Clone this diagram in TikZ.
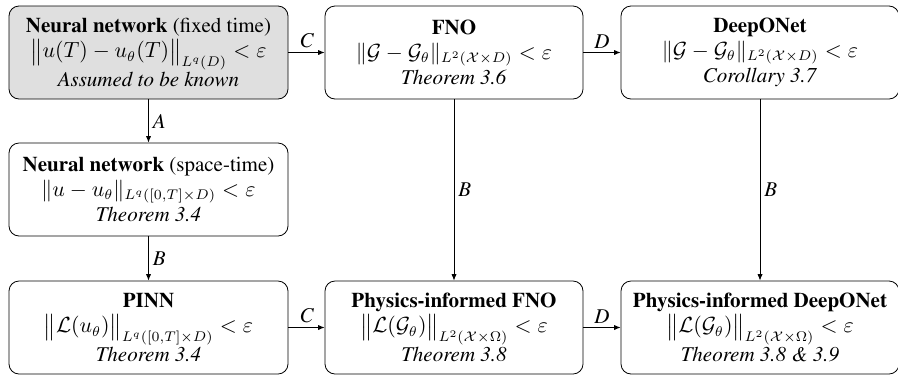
\documentclass[tikz,border=0pt]{standalone}
\usepackage{amsmath}
\usepackage[T1]{fontenc}
\usepackage{times}
\usetikzlibrary{arrows.meta}
\begin{document}
\begin{tikzpicture}[x=0.5pt,y=-0.5pt,
  box/.style={draw, rounded corners=5pt, align=center, inner sep=0pt, minimum height=46.5pt, font=\fontsize{10.5}{12.5}\selectfont},
  known/.style={box, fill=gray!25},
  conn/.style={-{Latex[length=3.2pt,width=2.6pt]}, line width=0.45pt},
  lab/.style={font=\fontsize{10.5}{12.5}\selectfont\itshape, inner sep=2pt}
]
\useasboundingbox (0,0) rectangle (898,376);
\node[known, minimum width=139.5pt] (nn) at (148.5,52.5)
  {\textbf{Neural network} (fixed time)\\ $\big\|u(T)-u_\theta(T)\big\|_{L^q(D)}<\varepsilon$\\ \textit{Assumed to be known}};
\node[box, minimum width=129pt] (fno) at (454,52.5)
  {\textbf{FNO}\\ $\|\mathcal{G}-\mathcal{G}_\theta\|_{L^2(\mathcal{X}\times D)}<\varepsilon$\\ \textit{Theorem 3.6}};
\node[box, minimum width=139pt] (don) at (760,52.5)
  {\textbf{DeepONet}\\ $\|\mathcal{G}-\mathcal{G}_\theta\|_{L^2(\mathcal{X}\times D)}<\varepsilon$\\ \textit{Corollary 3.7}};
\node[box, minimum width=139.5pt] (nst) at (148.5,189.5)
  {\textbf{Neural network} (space-time)\\ $\|u-u_\theta\|_{L^q([0,T]\times D)}<\varepsilon$\\ \textit{Theorem 3.4}};
\node[box, minimum width=139.5pt] (pinn) at (148.5,327.5)
  {\textbf{PINN}\\ $\big\|\mathcal{L}(u_\theta)\big\|_{L^q([0,T]\times D)}<\varepsilon$\\ \textit{Theorem 3.4}};
\node[box, minimum width=129pt] (pifno) at (454,327.5)
  {\textbf{Physics-informed FNO}\\ $\big\|\mathcal{L}(\mathcal{G}_\theta)\big\|_{L^2(\mathcal{X}\times\Omega)}<\varepsilon$\\ \textit{Theorem 3.8}};
\node[box, minimum width=139pt] (pidon) at (760,327.5)
  {\textbf{Physics-informed DeepONet}\\ $\big\|\mathcal{L}(\mathcal{G}_\theta)\big\|_{L^2(\mathcal{X}\times\Omega)}<\varepsilon$\\ \textit{Theorem 3.8 \& 3.9}};
\draw[conn] (nn) -- node[lab, above] {C} (fno);
\draw[conn] (fno) -- node[lab, above] {D} (don);
\draw[conn] (pinn) -- node[lab, above] {C} (pifno);
\draw[conn] (pifno) -- node[lab, above] {D} (pidon);
\draw[conn] (nn) -- node[lab, right] {A} (nst);
\draw[conn] (nst) -- node[lab, right] {B} (pinn);
\draw[conn] (fno) -- node[lab, right] {B} (pifno);
\draw[conn] (don) -- node[lab, right] {B} (pidon);
\end{tikzpicture}
\end{document}
